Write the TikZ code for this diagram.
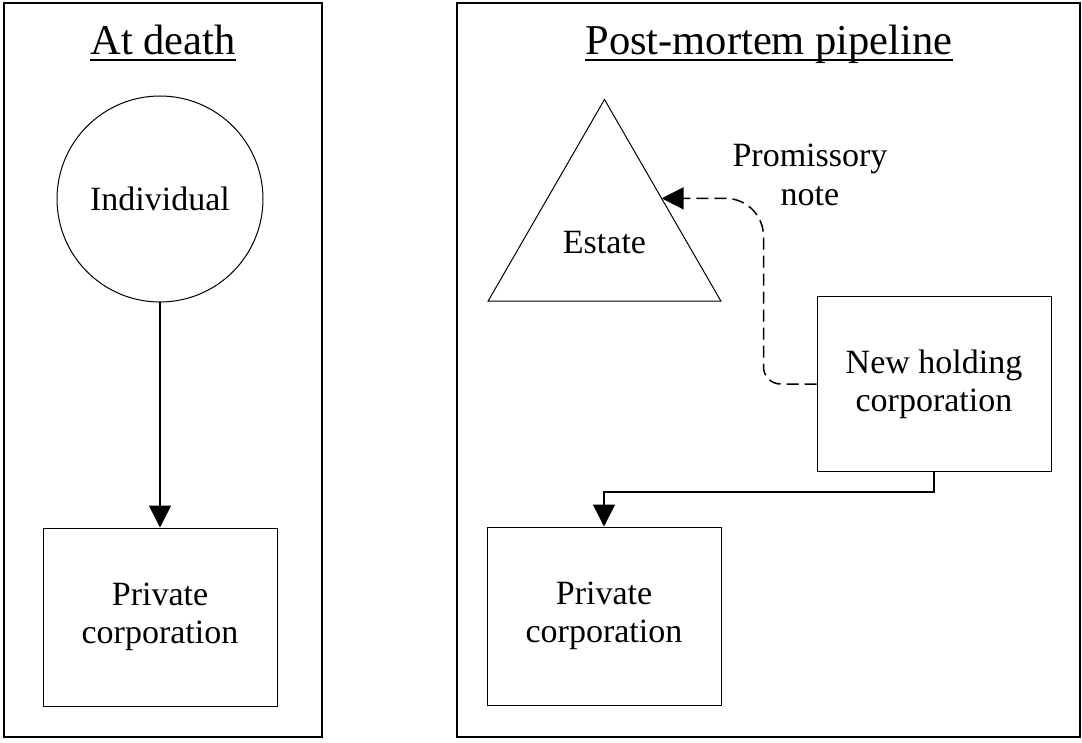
\documentclass[tikz,border=0pt]{standalone}
\usepackage{fontspec}
\setmainfont{Liberation Serif}
\usetikzlibrary{arrows.meta,shapes.geometric,calc}

\begin{document}
\begin{tikzpicture}[x=1pt, y=-1pt,
  panel/.style={draw, line width=2.5pt},
  ttl/.style={inner sep=0pt, anchor=base, font=\fontsize{42.5}{48}\selectfont},
  box/.style={draw, line width=1pt, align=center, minimum width=234pt,
              minimum height=178pt, font=\fontsize{34}{38}\selectfont},
  lab/.style={align=center, font=\fontsize{34}{39}\selectfont},
  flow/.style={line width=1.5pt, -{Triangle[length=22pt,width=22pt]}},
  note/.style={flow, dash pattern=on 12pt off 6pt}]
  \useasboundingbox (0,0) rectangle (1082,743);
  \draw[panel] (4,3) rectangle (322,737);
  \draw[panel] (457,3) rectangle (1080,737);
  \node[ttl] (ttlA) at (163,55) {At death};
  \node[ttl] (ttlB) at (769,55) {Post-mortem pipeline};
  \draw[line width=2pt] ([yshift=-5pt]ttlA.base west) -- ([yshift=-5pt]ttlA.base east);
  \draw[line width=2pt] ([yshift=-5pt]ttlB.base west) -- ([yshift=-5pt]ttlB.base east);
  % left panel
  \node[box, circle, minimum size=206pt] (indiv) at (160,199) {Individual};
  \node[box] (privA) at (160,617) {Private\\corporation};
  \draw[flow] (indiv) -- (privA);
  % right panel
  \node[box, regular polygon, regular polygon sides=3, minimum size=269pt,
        outer sep=0pt] (estate) at (604.5,234) {\raisebox{-20pt}[0pt][0pt]{Estate}};
  \node[box, minimum height=175pt] (holding) at (934,384) {New holding\\corporation};
  \node[box] (privB) at (604,616) {Private\\corporation};
  \node[lab] (promlbl) at (810,175) {Promissory\\note};
  \coordinate (hit) at ($(estate.corner 1)!0.49!(estate.corner 3)$);
  \draw[note] (holding.west) [rounded corners=17pt] -- ++(-53,0)
    [rounded corners=38pt] |- (hit);
  \draw[flow] (holding.south) -- ++(0,20) -| (privB.north);
\end{tikzpicture}
\end{document}
